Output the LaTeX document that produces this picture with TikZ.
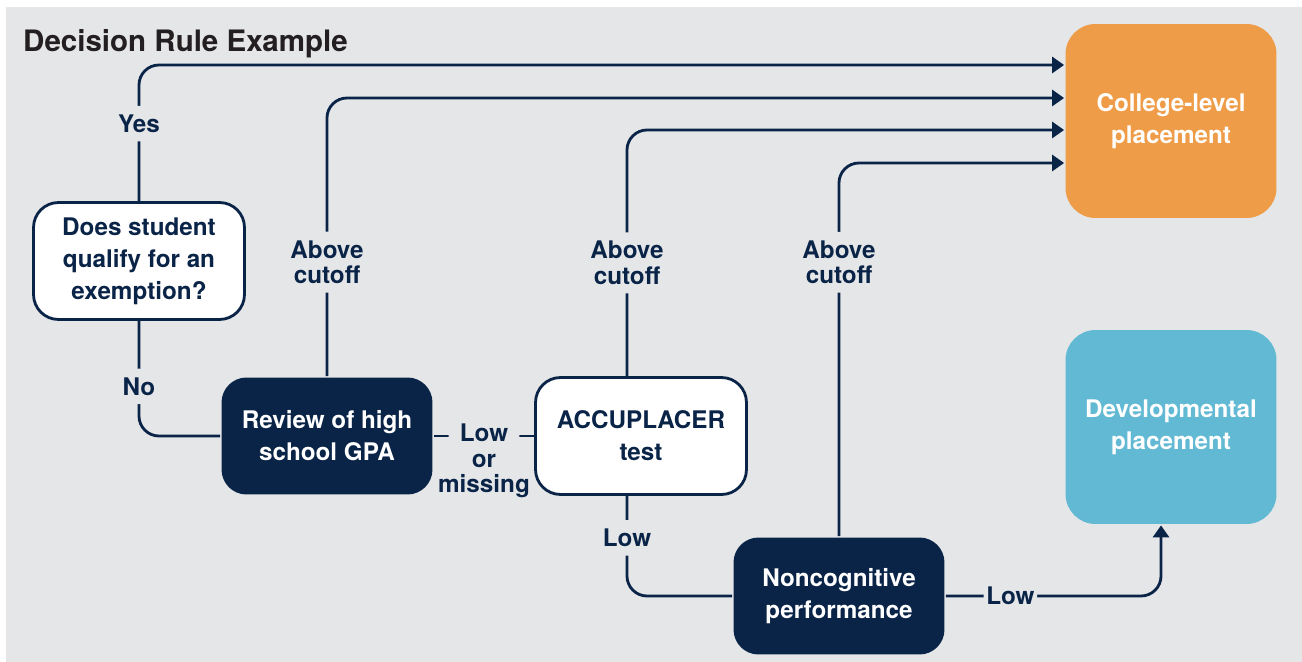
\documentclass[tikz,border=0pt]{standalone}
\usepackage{fontspec}
\setmainfont{TeX Gyre Heros}
\usetikzlibrary{arrows.meta, positioning}
\definecolor{navy}{HTML}{0A2448}
\definecolor{bggray}{HTML}{E5E6E8}
\definecolor{titlegray}{HTML}{231F20}
\definecolor{collegeorange}{HTML}{EF9C48}
\definecolor{devblue}{HTML}{62B9D3}
\tikzset{
  box/.style={rounded corners=0.5cm, minimum width=4.22cm, minimum height=2.34cm,
    align=center, line width=1.6pt, font=\bfseries\fontsize{13.8}{18.3}\selectfont},
  qbox/.style={box, draw=navy, fill=white, text=navy},
  darkbox/.style={box, fill=navy, text=white},
  endbox/.style={box, rounded corners=0.6cm, minimum height=3.88cm, text=white},
  flow/.style={draw=navy, line width=1.6pt, rounded corners=0.4cm},
  toend/.style={flow, -{Triangle[length=0.24cm, width=0.32cm]}},
  lbl/.style={fill=bggray, text=navy, align=center, inner xsep=1.5pt, inner ysep=5pt,
    font=\bfseries\fontsize{13.8}{14.5}\selectfont}
}
\begin{document}
\begin{tikzpicture}[x=0.02cm, y=-0.02cm]
  \useasboundingbox (0,0) rectangle (1302,662);
  \fill[bggray] (6,7) rectangle (1302,662);
  \node[anchor=west, text=titlegray, font=\bfseries\fontsize{16.8}{19}\selectfont] (title) at (17,44) {Decision Rule Example};

  % boxes
  \node[qbox] (exempt) at (139,261) {Does student\\qualify for an\\exemption?};
  \node[darkbox] (gpa) at (327,436) {Review of high\\school GPA};
  \node[qbox] (accu) at (641,436) {ACCUPLACER\\test};
  \node[darkbox] (noncog) at (839,596) {Noncognitive\\performance};
  \node[endbox, fill=collegeorange] (college) at (1171,121) {College-level\\placement};
  \node[endbox, fill=devblue] (dev) at (1171,427) {Developmental\\placement};

  % decisions
  \draw[toend] (exempt.north) |- node[lbl, pos=0.285] {Yes} (college.west |- 0,65);
  \draw[flow] (exempt.south) |- node[lbl, pos=0.284] {No} (gpa.west);
  \draw[toend] (gpa.north) |- node[lbl, pos=0.205] {Above\\cutoff} (college.west |- 0,98);
  \draw[flow] (gpa.east) -- node[lbl, midway, inner xsep=-6pt, yshift=-0.5cm] {Low\\or\\missing} (accu.west);
  \draw[toend] ([xshift=-0.28cm]accu.north) |- node[lbl, pos=0.23] {Above\\cutoff} (college.west |- 0,130);
  \draw[flow] ([xshift=-0.28cm]accu.south) |- node[lbl, pos=0.21] {Low} (noncog.west);
  \draw[toend] (noncog.north) |- node[lbl, pos=0.367] {Above\\cutoff} (college.west |- 0,163);
  \draw[toend] (noncog.east) -| node[lbl, pos=0.15] {Low} ([xshift=-0.2cm]dev.south);
\end{tikzpicture}
\end{document}
